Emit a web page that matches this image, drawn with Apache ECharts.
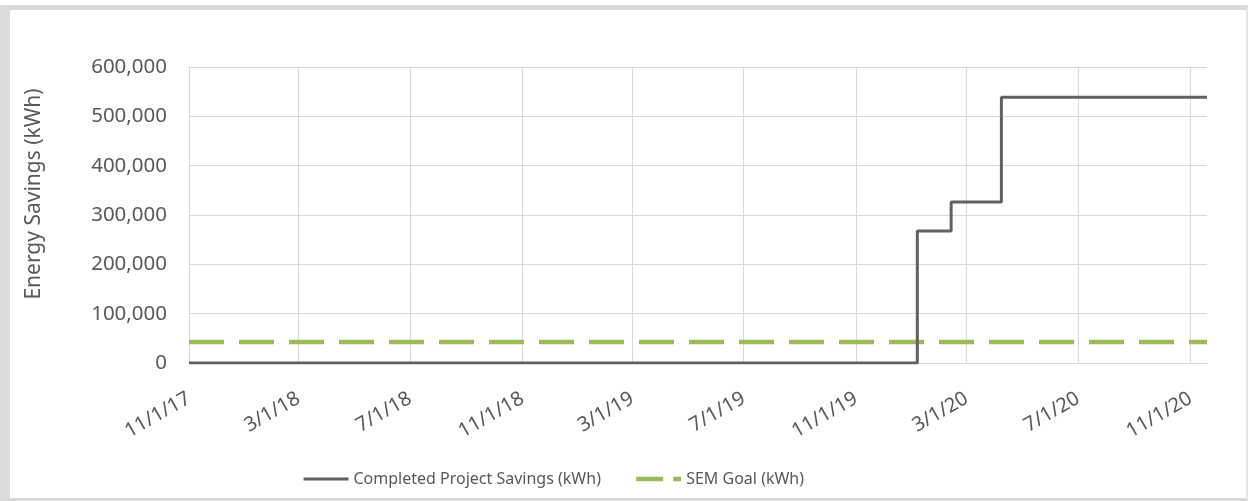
<!DOCTYPE html>
<html>
<head>
<meta charset="utf-8">
<script src="https://cdn.jsdelivr.net/npm/echarts@6/dist/echarts.min.js"></script>
<style>
  html, body { margin: 0; padding: 0; background: #ffffff; }
  #frame { position: absolute; left: 0; top: 5px; width: 1248px; height: 496px; box-sizing: border-box;
           border-top: 5px solid #d9d9d9; border-left: 10px solid #dcdcdc; border-bottom: 3px solid #d9d9d9;
           border-right: 2px solid #e6e6e6; background: #ffffff; }
  #chart { position: absolute; left: 0; top: 0; width: 1248px; height: 501px; }
</style>
</head>
<body>
<div id="frame"></div>
<div id="chart"></div>
<script>
// ---- data ----
const savingsDates  = ['2017-11-01', '2020-01-07', '2020-02-13', '2020-04-08', '2020-11-19'];
const savingsValues = [0, 267500, 326500, 538500, 538500];
const goalDates     = ['2017-11-01', '2020-11-19'];
const goalValues    = [42700, 42700];
const xTickDates    = ['2017-11-01', '2018-03-01', '2018-07-01', '2018-11-01', '2019-03-01',
                       '2019-07-01', '2019-11-01', '2020-03-01', '2020-07-01', '2020-11-01'];
const yTicks        = [0, 100000, 200000, 300000, 400000, 500000, 600000];
const seriesNames   = ['Completed Project Savings (kWh)', 'SEM Goal (kWh)'];
const xMin = '2017-11-01', xMax = '2020-11-19';

const ts = d => { const p = d.split('-').map(Number); return Date.UTC(p[0], p[1] - 1, p[2]); };
const fmtDate = v => { const d = new Date(v); return (d.getUTCMonth() + 1) + '/' + d.getUTCDate() + '/' + String(d.getUTCFullYear()).slice(2); };
const FONT = 'Noto Sans';
const TXT = '#595959';

const chart = echarts.init(document.getElementById('chart'), null, { renderer: 'canvas' });
chart.setOption({
  backgroundColor: 'transparent',
  animation: false,
  grid: { left: 189, right: 41, top: 67, bottom: 138, containLabel: false },
  xAxis: {
    type: 'value',
    min: ts(xMin), max: ts(xMax),
    axisLine: { show: true, lineStyle: { color: '#d9d9d9', width: 1 } },
    axisTick: { show: false, customValues: xTickDates.map(ts) },
    splitLine: { show: true, lineStyle: { color: '#d9d9d9', width: 1 } },
    axisLabel: {
      customValues: xTickDates.map(ts),
      rotate: 30, margin: 34,
      fontFamily: FONT, fontSize: 20, color: TXT,
      formatter: v => fmtDate(v),
      showMinLabel: true, showMaxLabel: true, hideOverlap: false
    }
  },
  yAxis: {
    type: 'value', min: yTicks[0], max: yTicks[yTicks.length - 1], interval: yTicks[1] - yTicks[0],
    name: 'Energy Savings (kWh)', nameLocation: 'middle', nameGap: 144,
    nameTextStyle: { fontFamily: FONT, fontSize: 21, color: TXT, padding: [0, 0, 0, 42] },
    axisLine: { show: true, lineStyle: { color: '#d9d9d9' } },
    axisTick: { show: false },
    splitLine: { lineStyle: { color: '#d9d9d9', width: 1 } },
    axisLabel: { fontFamily: FONT, fontSize: 20.5, color: TXT, margin: 22,
      formatter: v => v.toLocaleString('en-US') }
  },
  legend: {
    left: 297, top: 466, itemWidth: 45, itemHeight: 18, itemGap: 33,
    itemStyle: { opacity: 0 },
    textStyle: { fontFamily: FONT, fontSize: 16, color: TXT },
    data: [
      { name: seriesNames[0], lineStyle: { width: 3 } },
      { name: seriesNames[1], lineStyle: { width: 4.5, type: [27, 10] } }
    ]
  },
  series: [
    {
      name: seriesNames[0], type: 'line', step: 'end', symbol: 'none', z: 3,
      lineStyle: { color: '#616161', width: 3 }, itemStyle: { color: '#616161' },
      data: savingsDates.map((d, i) => [ts(d), savingsValues[i]])
    },
    {
      name: seriesNames[1], type: 'line', symbol: 'none', z: 2,
      lineStyle: { color: '#9bbb59', width: 4.5, type: [35, 15], cap: 'butt' }, itemStyle: { color: '#9bbb59' },
      data: goalDates.map((d, i) => [ts(d), goalValues[i]])
    }
  ]
});
</script>
</body>
</html>
